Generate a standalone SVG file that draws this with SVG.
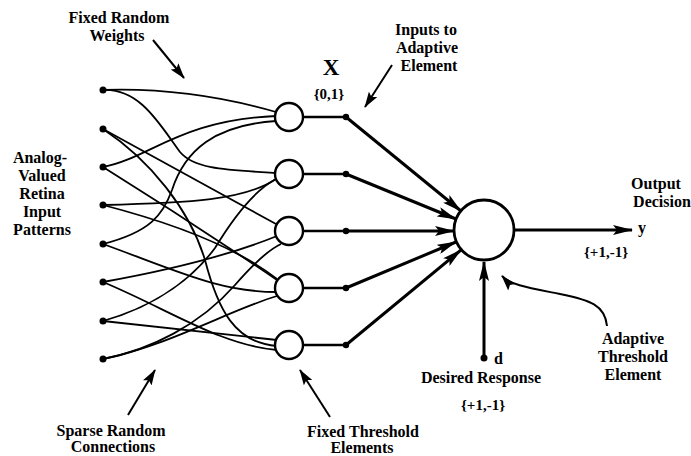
<svg xmlns="http://www.w3.org/2000/svg" width="691" height="456" viewBox="0 0 691 456">
<defs>
<style>
.t{font-family:"Liberation Serif","Times New Roman",serif;font-weight:bold;font-size:16px;fill:#000;text-anchor:middle}
.w{fill:none;stroke:#000;stroke-width:1.8}
.o{fill:none;stroke:#000;stroke-width:2.6}
.a{fill:none;stroke:#000;stroke-width:3}
.p{fill:none;stroke:#000;stroke-width:2}
.c{fill:#fff;stroke:#000;stroke-width:2.4}
.d{fill:#000}
</style>
<marker id="ah" viewBox="0 0 20 10" refX="19" refY="5" markerUnits="userSpaceOnUse" markerWidth="20" markerHeight="10" orient="auto">
<path d="M0,0 L20,5 L0,10 L4,5 Z" fill="#000"/>
</marker>
<marker id="ap" viewBox="0 0 16 10" refX="15" refY="5" markerUnits="userSpaceOnUse" markerWidth="16" markerHeight="10" orient="auto">
<path d="M0,0 L16,5 L0,10 L3,5 Z" fill="#000"/>
</marker>
</defs>
<rect width="691" height="456" fill="#fff"/>

<g id="connectors">
<!-- random connections -->
<path class="w" d="M103,90 C160,88 220,96 276,112"/>
<path class="w" d="M103,167 C150,158 180,120 276,116"/>
<path class="w" d="M103,244 C150,232 163,215 172,190 C185,150 215,125 276,121"/>
<path class="w" d="M103,90 C140,88 160,125 180,152 C195,170 230,170 276,173"/>
<path class="w" d="M103,205 C190,203 245,200 276,179"/>
<path class="w" d="M103,321 C160,305 195,275 215,248 C235,215 255,190 276,179"/>
<path class="w" d="M103,129 L276,224"/>
<path class="w" d="M103,282 C170,270 230,255 277,236"/>
<path class="w" d="M103,359 C150,350 200,325 235,285 C255,262 268,250 281,244"/>
<path class="w" d="M103,167 C180,215 240,255 277,280"/>
<path class="w" d="M103,205 C180,225 240,250 277,279"/>
<path class="w" d="M103,244 C180,272 220,292 277,292"/>
<path class="w" d="M103,359 C170,345 230,310 277,296"/>
<path class="w" d="M103,129 C150,160 190,210 205,260 C218,310 235,343 277,346"/>
<path class="w" d="M103,282 C170,310 220,345 277,350"/>
<path class="w" d="M103,321 C170,328 230,335 277,340"/>
<!-- outputs of fixed threshold elements -->
<path class="o" d="M303,117 L346,117 M303,174 L346,174 M303,231 L346,231 M303,288 L346,288 M303,345 L346,345"/>
<!-- inputs to adaptive element -->
<path class="a" marker-end="url(#ah)" d="M346,117 L461,211"/>
<path class="a" marker-end="url(#ah)" d="M346,174 L456,219"/>
<path class="a" marker-end="url(#ah)" d="M346,231 L454,231"/>
<path class="a" marker-end="url(#ah)" d="M346,288 L456,242"/>
<path class="a" marker-end="url(#ah)" d="M346,345 L461,250"/>
<!-- output -->
<path class="a" marker-end="url(#ah)" d="M514,230 L632,230"/>
<!-- desired response -->
<path class="a" marker-end="url(#ah)" d="M484,358 L484,262"/>
<!-- pointer arrows -->
<path class="p" marker-end="url(#ap)" d="M153,40 L184,78"/>
<path class="p" marker-end="url(#ap)" d="M392,65 L365,107"/>
<path class="p" marker-end="url(#ap)" d="M128,415 L155,370"/>
<path class="p" marker-end="url(#ap)" d="M330,417 L300,370"/>
<path class="p" marker-end="url(#ap)" d="M607,326 C605,305 590,300 560,294 C530,288 510,285 502,276"/>
</g>

<g id="inputs">
<circle class="d" cx="103" cy="90" r="3.5"/>
<circle class="d" cx="103" cy="129" r="3.5"/>
<circle class="d" cx="103" cy="167" r="3.5"/>
<circle class="d" cx="103" cy="205" r="3.5"/>
<circle class="d" cx="103" cy="244" r="3.5"/>
<circle class="d" cx="103" cy="282" r="3.5"/>
<circle class="d" cx="103" cy="321" r="3.5"/>
<circle class="d" cx="103" cy="359" r="3.5"/>
</g>

<g id="fixed-threshold-elements">
<circle class="c" cx="289" cy="117" r="14"/>
<circle class="c" cx="289" cy="174" r="14"/>
<circle class="c" cx="289" cy="231" r="14"/>
<circle class="c" cx="289" cy="288" r="14"/>
<circle class="c" cx="289" cy="345" r="14"/>
</g>

<g id="x-inputs">
<circle class="d" cx="346" cy="117" r="3.2"/>
<circle class="d" cx="346" cy="174" r="3.2"/>
<circle class="d" cx="346" cy="231" r="3.2"/>
<circle class="d" cx="346" cy="288" r="3.2"/>
<circle class="d" cx="346" cy="345" r="3.2"/>
</g>

<g id="adaptive-element">
<circle cx="484" cy="230" r="30" fill="#fff" stroke="#000" stroke-width="2.8"/>
</g>

<g id="desired">
<circle class="d" cx="484" cy="358" r="3.5"/>
</g>

<g id="labels">
<text class="t" x="119" y="23">Fixed Random</text>
<text class="t" x="117" y="41">Weights</text>
<text class="t" x="331" y="75" style="font-size:23px">X</text>
<text class="t" x="329" y="99" style="font-size:15px">{0,1}</text>
<text class="t" x="426" y="35">Inputs to</text>
<text class="t" x="427" y="53">Adaptive</text>
<text class="t" x="429" y="71">Element</text>
<text class="t" x="40" y="163">Analog-</text>
<text class="t" x="42" y="181">Valued</text>
<text class="t" x="42" y="199">Retina</text>
<text class="t" x="42" y="217">Input</text>
<text class="t" x="42" y="235">Patterns</text>
<text class="t" x="656" y="189">Output</text>
<text class="t" x="662" y="207">Decision</text>
<text class="t" x="638" y="233" style="text-anchor:start">y</text>
<text class="t" x="606" y="257" style="font-size:15px">{+1,-1}</text>
<text class="t" x="494" y="364" style="text-anchor:start">d</text>
<text class="t" x="481" y="383">Desired Response</text>
<text class="t" x="483" y="410" style="font-size:15px">{+1,-1}</text>
<text class="t" x="633" y="344">Adaptive</text>
<text class="t" x="633" y="362">Threshold</text>
<text class="t" x="633" y="380">Element</text>
<text class="t" x="111" y="436">Sparse Random</text>
<text class="t" x="113" y="452">Connections</text>
<text class="t" x="363" y="437">Fixed Threshold</text>
<text class="t" x="362" y="453">Elements</text>
</g>
</svg>
